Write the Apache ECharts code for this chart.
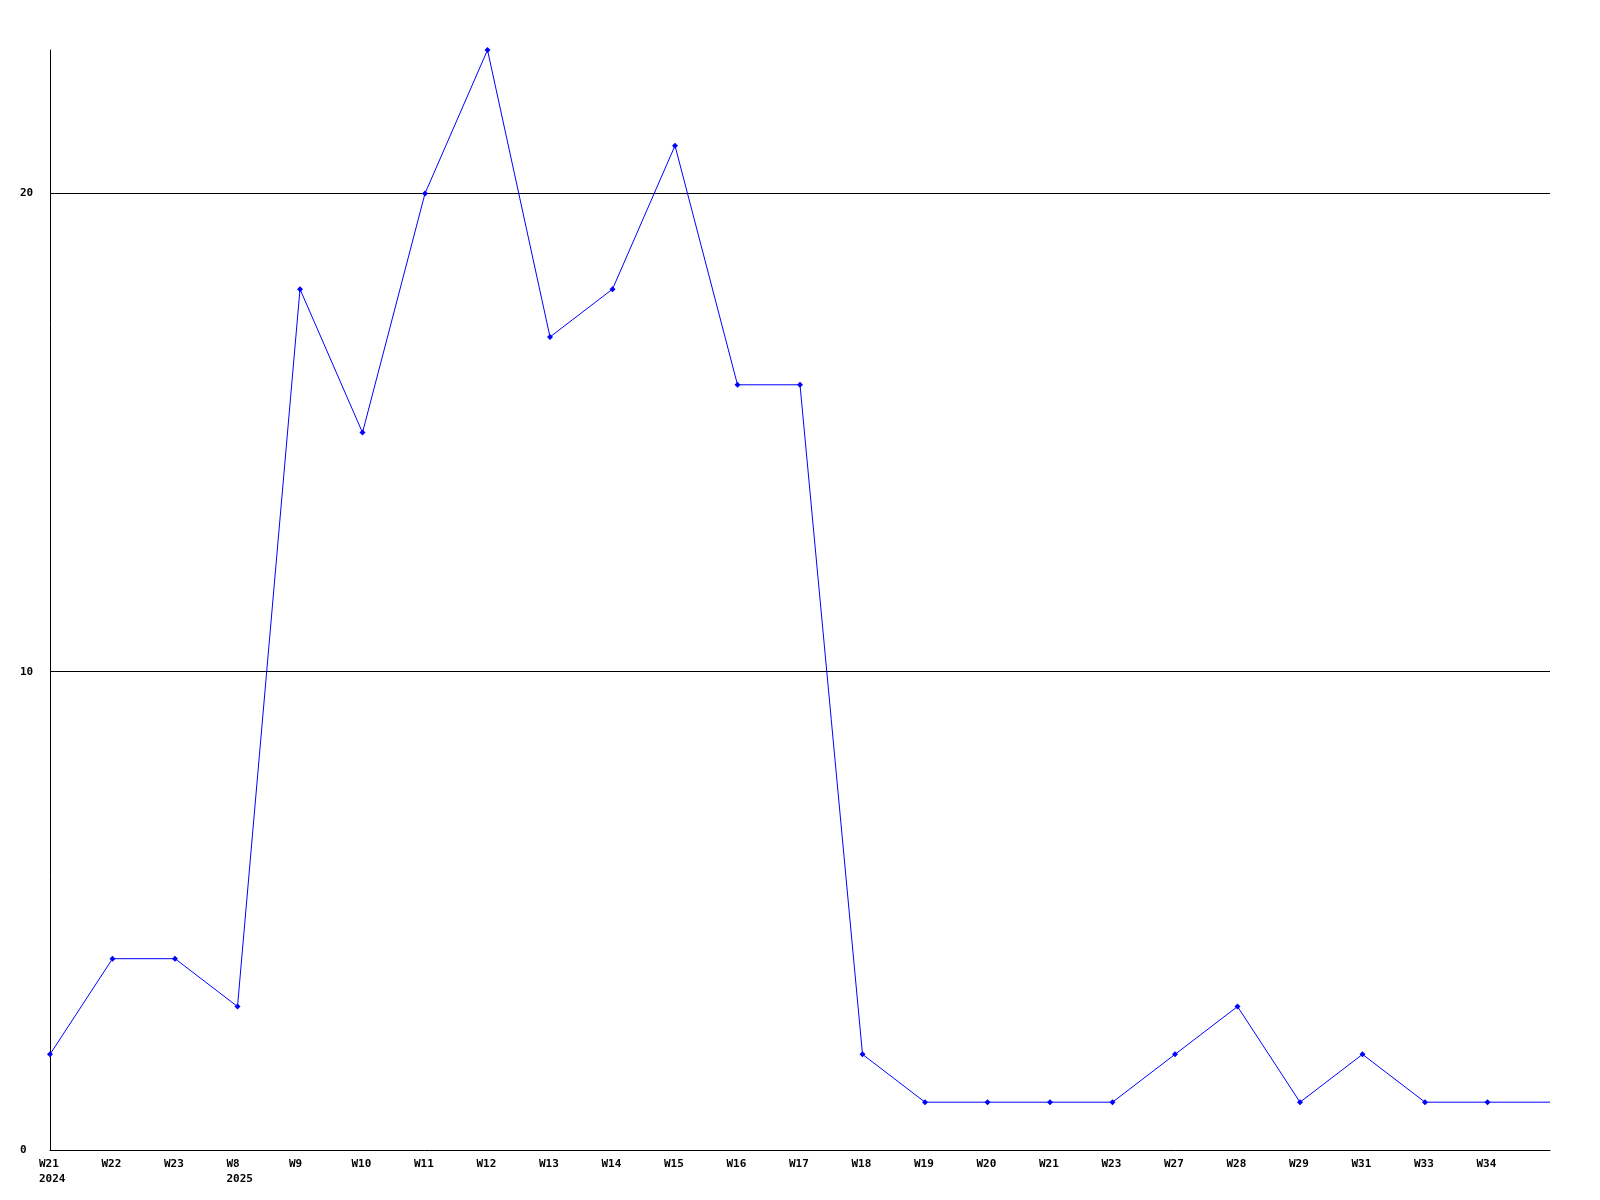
<!DOCTYPE html>
<html>
<head>
<meta charset="utf-8">
<script src="https://cdn.jsdelivr.net/npm/echarts@6/dist/echarts.min.js"></script>
<style>html,body{margin:0;padding:0;background:#fff}#c{width:1600px;height:1200px}</style>
</head>
<body>
<div id="c"></div>
<script>
const weeks = ['W21','W22','W23','W8','W9','W10','W11','W12','W13','W14','W15','W16','W17','W18','W19','W20','W21','W23','W27','W28','W29','W31','W33','W34',''];
const years = ['2024','','','2025','','','','','','','','','','','','','','','','','','','','',''];
const values = [2,4,4,3,18,15,20,23,17,18,21,16,16,2,1,1,1,1,2,3,1,2,1,1,1];
const yTicks = [0,10,20];

const chart = echarts.init(document.getElementById('c'), null, {renderer:'canvas'});
const font = {fontFamily:'DejaVu Sans Mono', fontWeight:'bold', fontSize:11, color:'#000'};
chart.setOption({
  animation:false,
  backgroundColor:'#fff',
  grid:{left:50,right:50,top:50,bottom:50,containLabel:false},
  xAxis:{
    type:'category',
    data:weeks.map((w,i)=>({value:String(i)})),
    boundaryGap:false,
    axisLine:{lineStyle:{color:'#000',width:1}},
    axisTick:{show:false},
    axisLabel:Object.assign({}, font, {
      interval:0, margin:7, lineHeight:15, verticalAlign:'top',
      formatter:(v,i)=> weeks[i] ? (years[i] ? '{t|'+weeks[i]+'}\n{t|'+years[i]+'}' : '{t|'+weeks[i]+'}') : '',
      rich:{t:Object.assign({}, font, {width:22, align:'left', lineHeight:15})}
    }),
    splitLine:{show:false}
  },
  yAxis:{
    type:'value', min:0, max:23, interval:10,
    axisLine:{show:true,lineStyle:{color:'#000',width:1}},
    axisTick:{show:false},
    axisLabel:Object.assign({}, font, {margin:30, align:'left', showMaxLabel:false,
      formatter:v=> yTicks.includes(v)? String(v) : ''}),
    splitLine:{show:true, showMinLine:false, showMaxLine:false, lineStyle:{color:'#000',width:1}}
  },
  series:[{
    type:'line',
    data:values.map((v,i)=> i===values.length-1 ? {value:v, symbol:'none'} : v),
    symbol:'diamond', symbolSize:6, showAllSymbol:true,
    lineStyle:{color:'#0000ff',width:1},
    itemStyle:{color:'#0000ff'}
  }]
});
</script>
</body>
</html>
